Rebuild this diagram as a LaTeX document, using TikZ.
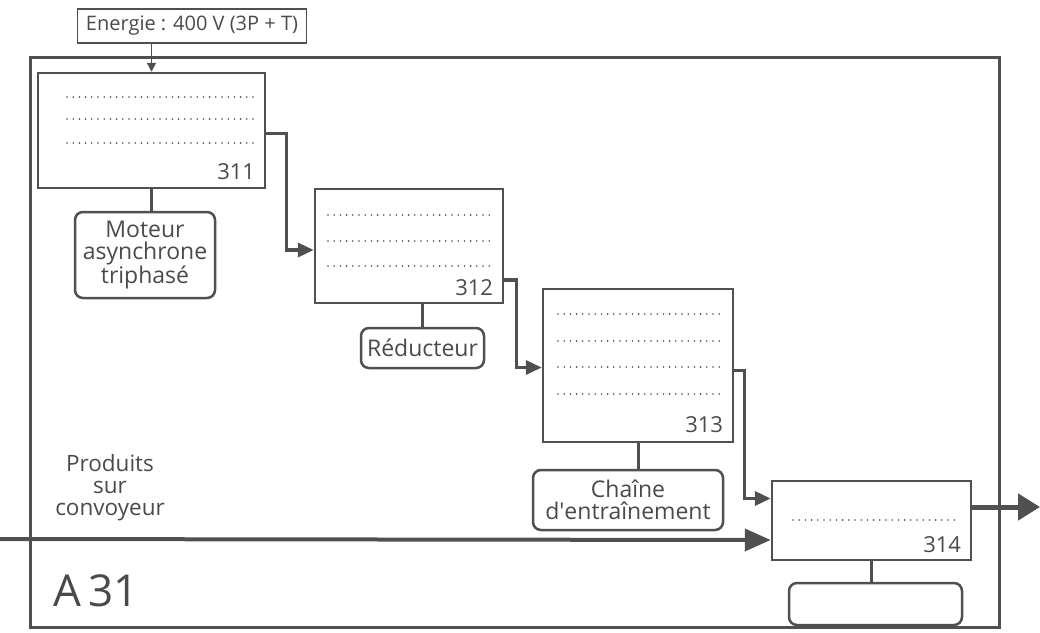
\documentclass[tikz,border=0pt]{standalone}
\usepackage{fontspec}
\setmainfont{Open Sans}
\usetikzlibrary{arrows.meta,calc}
\definecolor{ink}{HTML}{505050}
\definecolor{txt}{HTML}{4A4A4A}
\begin{document}
\begin{tikzpicture}[x=1pt,y=-1pt,
  every node/.style={text=txt, font=\fontsize{23}{22}\selectfont},
  fbox/.style={draw=ink, line width=2.5pt, rectangle, inner sep=0pt},
  rbox/.style={draw=ink, line width=2.5pt, rectangle, rounded corners=8pt, inner sep=0pt, align=center},
  conn/.style={draw=ink, line width=3.5pt, -{Triangle[length=16pt,width=14pt]}},
  link/.style={draw=ink, line width=3pt},
  dotline/.style={draw=ink, line width=1.8pt, line cap=round, dash pattern=on 0pt off 6.2pt},
  num/.style={anchor=south east, inner sep=0pt, font=\fontsize{22}{22}\selectfont}]
\useasboundingbox (0,0) rectangle (1040,632);
% frame
\draw[ink, line width=3pt] (30,57) rectangle (999,627);
% energy
\node[draw=ink, line width=1.3pt, inner sep=2pt, minimum width=229, minimum height=34, font=\fontsize{20}{22}\selectfont] (energie) at (192,26) {Energie : 400 V (3P + T)};
% main boxes
\node[fbox, minimum width=227, minimum height=115] (b311) at (151.5,130.5) {};
\node[fbox, minimum width=188, minimum height=114] (b312) at (409,246) {};
\node[fbox, minimum width=190, minimum height=153] (b313) at (638,365.5) {};
\node[fbox, minimum width=199, minimum height=79] (b314) at (871.5,520.5) {};
% numbers
\node[num] (n311) at ($(b311.south east)+(-11,-9)$) {311};
\node[num] (n312) at ($(b312.south east)+(-11,-8)$) {312};
\node[num] (n313) at ($(b313.south east)+(-11,-10)$) {313};
\node[num] (n314) at ($(b314.south east)+(-11,-8)$) {314};
% dotted lines
\foreach \y in {97,119,143} \draw[dotline] (67,\y) -- (253,\y);
\foreach \y in {215,241,266} \draw[dotline] (328,\y) -- (491,\y);
\foreach \y in {314,341,367,394} \draw[dotline] (558,\y) -- (720,\y);
\draw[dotline] (793,520) -- (955,520);
% support boxes
\node[rbox, minimum width=140, minimum height=86] (moteur) at (145,255) {Moteur\\asynchrone\\triphasé};
\node[rbox, minimum width=123, minimum height=40] (red) at (422.5,348) {Réducteur};
\node[rbox, minimum width=190, minimum height=60] (chaine) at (628,500) {\fontsize{23}{23}\selectfont Chaîne\\d\textquotesingle entraînement};
\node[rbox, minimum width=173, minimum height=42] (vide) at (875.5,604) {};
% links
\draw[link] (b311.south) -- (b311.south |- moteur.north);
\draw[link] (red.north |- b312.south) -- (red.north);
\draw[link] (b313.south) -- (b313.south |- chaine.north);
\draw[link] (b314.south) -- (b314.south |- vide.north);
% energy arrow
\draw[draw=ink, line width=1.3pt, -{Triangle[length=9pt,width=9pt]}] (energie.south -| b311.north) -- (b311.north);
% flow connectors
\draw[conn] ([yshift=-3]b311.east) -- ++(20,0) |- ([yshift=-4]b312.west);
\draw[conn] ([yshift=-34]b312.east) -- ++(12,0) |- ([yshift=-2]b313.west);
\draw[conn] ([yshift=-5]b313.east) -- ++(10,0) |- ([yshift=22]b314.west);
% conveyor
\coordinate (cin) at (0,539);
\coordinate (cout) at (1040,507);
\draw[draw=ink, line width=4pt, -{Triangle[length=26pt,width=22pt]}] (cin) -- ([yshift=-19.5]b314.west);
\draw[draw=ink, line width=5pt, -{Triangle[length=22pt,width=26pt]}] ([yshift=13.5]b314.east) -- (cout);
% labels
\node[align=center, font=\fontsize{22.5}{22}\selectfont] (prod) at (110,488) {Produits\\sur\\convoyeur};
\node[anchor=west, inner sep=0pt, font=\fontsize{44}{48}\selectfont] (a31) at (53,591) {A\,31};
\end{tikzpicture}
\end{document}
